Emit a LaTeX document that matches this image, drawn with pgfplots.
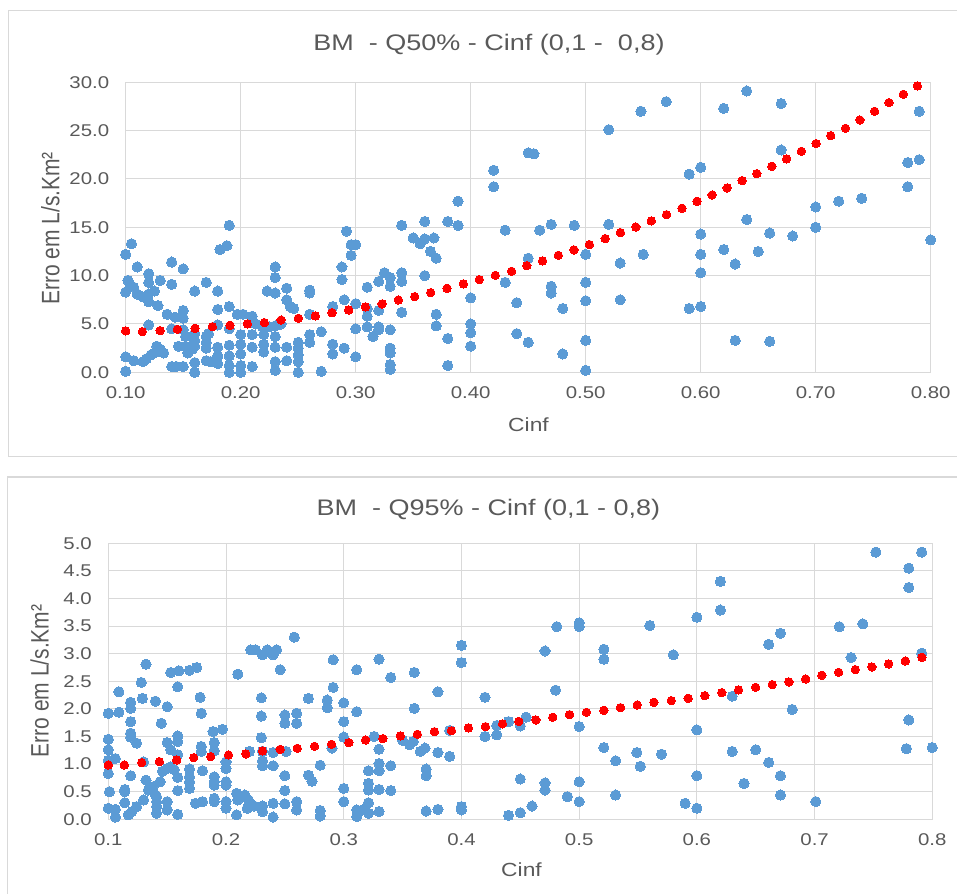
\documentclass[border=0pt]{standalone}
\usepackage{fontspec}
\setmainfont{Liberation Sans}[FakeStretch=1.2]
\newfontfamily\labelfont{Liberation Sans}
\usepackage{pgfplots}
\pgfplotsset{compat=1.18}

\definecolor{ptblue}{HTML}{5B9BD5}
\definecolor{gridgray}{HTML}{D9D9D9}
\definecolor{txtgray}{HTML}{595959}

\pgfplotsset{
  excelscatter/.style={
    scale only axis,
    axis line style={gridgray, line width=1bp},
    grid=major,
    major grid style={gridgray, line width=1bp},
    major tick length=0pt,
    tick style={draw=none},
    xmin=0.1, xmax=0.8, ymin=0,
    /pgf/number format/assume math mode=true,
    tick label style={font=\fontsize{17bp}{20bp}\selectfont, text=txtgray},
    xticklabel style={yshift=-11bp},
    yticklabel style={xshift=-13bp},
    clip=false,
  },
  blue dots/.style={only marks, mark=*, mark size=5.1bp, color=ptblue,
    mark options={draw=ptblue, fill=ptblue, line width=0pt}},
  red dots/.style={only marks, mark=*, mark size=4.2bp, color=red,
    mark options={draw=red, fill=red, line width=0pt}},
}

\begin{document}
\begin{tikzpicture}[x=1bp, y=1bp]
\useasboundingbox (0,0) rectangle (957,894);

% panel frames
\draw[gridgray, line width=1.3bp] (8.6,883.3) rectangle (975,437.5);
\draw[gridgray, line width=1.3bp] (7.3,417) rectangle (975,-10);

% ---------------- Q50% ----------------
\begin{axis}[excelscatter,
  at={(125.7bp,521.7bp)}, anchor=south west,
  width=805bp, height=290bp,
  ymax=30,
  xtick={0.1,0.2,...,0.8},
  ytick={0,5,...,30},
  xticklabel style={/pgf/number format/.cd, fixed, fixed zerofill, precision=2},
  yticklabel style={/pgf/number format/.cd, fixed, fixed zerofill, precision=1},
]
\addplot[blue dots] coordinates {
(0.100,12.2) (0.105,13.3) (0.110,10.9) (0.102,9.5) (0.104,9.0) (0.100,8.3) (0.107,8.8)
(0.110,8.1) (0.115,7.8) (0.120,8.1) (0.125,8.4) (0.120,9.3) (0.120,10.2) (0.120,7.3)
(0.128,6.9) (0.130,9.5) (0.136,6.0) (0.140,11.4) (0.140,9.1) (0.143,5.7) (0.150,5.6)
(0.150,6.4) (0.150,10.7) (0.160,8.4) (0.170,9.3) (0.180,8.4) (0.180,6.5) (0.182,12.7)
(0.188,13.1) (0.190,15.2) (0.190,6.8) (0.197,6.0)
(0.120,4.9) (0.140,4.5) (0.150,4.4) (0.152,3.7) (0.160,4.0) (0.160,3.3) (0.170,3.7)
(0.172,4.0) (0.180,4.9) (0.190,4.5) (0.200,3.9) (0.190,2.8) (0.200,2.9) (0.130,2.4)
(0.127,2.7) (0.133,2.0) (0.125,2.0) (0.146,2.7) (0.152,2.7) (0.154,2.0) (0.158,2.4)
(0.160,2.7) (0.170,3.1) (0.170,2.5) (0.180,2.6) (0.180,1.7) (0.190,1.7) (0.100,1.6)
(0.107,1.2) (0.115,1.1) (0.118,1.4) (0.122,1.8) (0.140,0.6) (0.144,0.6) (0.150,0.6)
(0.160,1.0) (0.160,0.0) (0.170,1.2) (0.174,1.1) (0.180,0.9) (0.180,1.6) (0.190,0.7)
(0.190,0.0) (0.200,0.7) (0.200,0.0) (0.100,0.1)
(0.202,6.0) (0.210,5.8) (0.213,5.0) (0.219,4.7) (0.225,4.7) (0.230,4.8) (0.235,5.0)
(0.210,3.9) (0.220,3.9) (0.230,3.7) (0.200,1.9) (0.210,2.6) (0.220,2.9) (0.220,2.1)
(0.230,2.6) (0.240,2.6) (0.240,1.2) (0.210,0.6) (0.230,1.1) (0.230,0.2) (0.223,8.4)
(0.230,8.2) (0.230,10.9) (0.230,9.8) (0.240,8.7) (0.240,7.5) (0.243,6.8) (0.246,6.6)
(0.250,3.1) (0.250,2.5) (0.250,1.8) (0.250,1.1) (0.250,0.0) (0.260,8.5) (0.260,8.2)
(0.260,6.0) (0.260,3.9) (0.260,3.1) (0.270,4.2) (0.270,0.1) (0.280,6.8) (0.280,2.9)
(0.280,1.9) (0.288,10.9) (0.288,9.6) (0.290,7.5) (0.292,14.6) (0.290,2.5) (0.296,13.2)
(0.300,13.2) (0.296,12.1) (0.300,7.1) (0.300,4.5) (0.300,1.6)
(0.310,8.8) (0.310,6.6) (0.310,5.8) (0.310,4.7) (0.315,3.7) (0.320,9.4) (0.320,6.4)
(0.320,4.7) (0.320,4.4) (0.325,10.3) (0.330,9.8) (0.330,8.9) (0.330,4.4) (0.330,2.5)
(0.330,2.0) (0.330,0.8) (0.330,0.3) (0.340,15.2) (0.340,10.3) (0.340,9.4) (0.340,6.2)
(0.350,13.9) (0.356,13.3) (0.360,13.8) (0.368,13.9) (0.360,15.6) (0.360,10.0) (0.365,12.5)
(0.370,11.8) (0.370,6.0) (0.370,4.8) (0.380,15.6) (0.380,3.5) (0.380,0.7) (0.389,17.7)
(0.389,15.2) (0.400,7.7) (0.400,5.0) (0.400,4.1) (0.400,2.7)
(0.420,20.9) (0.420,19.2) (0.430,14.7) (0.430,9.3) (0.440,7.2) (0.440,4.0) (0.450,22.7)
(0.455,22.6) (0.450,11.8) (0.450,3.1) (0.460,14.7) (0.470,15.3) (0.470,8.9) (0.470,8.2)
(0.480,6.6) (0.480,1.9) (0.490,15.2) (0.500,12.2) (0.500,9.3) (0.500,7.4) (0.500,3.3)
(0.500,0.2) (0.520,25.1) (0.520,15.3) (0.530,11.3) (0.530,7.5) (0.548,27.0) (0.550,12.2)
(0.570,28.0) (0.590,20.5) (0.590,6.6) (0.600,21.2) (0.600,14.3) (0.600,12.2) (0.600,10.3)
(0.600,6.8) (0.620,27.3) (0.620,12.7) (0.630,11.2) (0.630,3.3) (0.640,29.1) (0.640,15.8)
(0.650,12.5) (0.660,14.4) (0.660,3.2) (0.670,27.8) (0.670,23.0) (0.680,14.1) (0.700,17.1)
(0.700,15.0) (0.720,17.7) (0.740,18.0) (0.780,21.7) (0.780,19.2) (0.790,27.0) (0.790,22.0)
(0.800,13.7)
};
% trendline, drawn as round dots
\addplot[red dots] coordinates {
(0.1000,4.28) (0.1145,4.21) (0.1299,4.31) (0.1449,4.45) (0.1603,4.55) (0.1754,4.72)
(0.1907,4.86) (0.2058,5.00) (0.2206,5.14) (0.2351,5.41) (0.2501,5.59) (0.2649,5.83)
(0.2794,6.17) (0.2939,6.45) (0.3084,6.76) (0.3229,7.07) (0.3371,7.48) (0.3513,7.83)
(0.3652,8.24) (0.3794,8.69) (0.3936,9.14) (0.4075,9.59) (0.4214,10.03) (0.4355,10.45)
(0.4488,11.03) (0.4625,11.52) (0.4762,12.10) (0.4898,12.66) (0.5032,13.21) (0.5169,13.83)
(0.5302,14.45) (0.5436,15.03) (0.5570,15.66) (0.5703,16.31) (0.5837,16.97) (0.5968,17.69)
(0.6099,18.34) (0.6230,19.07) (0.6360,19.83) (0.6488,20.55) (0.6619,21.31) (0.6747,22.07)
(0.6875,22.86) (0.7003,23.66) (0.7131,24.48) (0.7259,25.24) (0.7384,26.10) (0.7512,27.00)
(0.7637,27.90) (0.7762,28.76) (0.7884,29.62)
};
\end{axis}

% ---------------- Q95% ----------------
\begin{axis}[excelscatter,
  at={(108.3bp,74.7bp)}, anchor=south west,
  width=824bp, height=276bp,
  ymax=5,
  xtick={0.1,0.2,...,0.8},
  ytick={0,0.5,...,5},
  xticklabel style={/pgf/number format/.cd, fixed, precision=1},
  yticklabel style={/pgf/number format/.cd, fixed, fixed zerofill, precision=1},
]
\addplot[blue dots] coordinates {
(0.132,2.81) (0.153,2.66) (0.160,2.69) (0.169,2.70) (0.175,2.75) (0.128,2.48) (0.109,2.31)
(0.159,2.40) (0.119,2.12) (0.119,2.01) (0.129,2.19) (0.140,2.14) (0.150,2.04) (0.178,2.21)
(0.179,1.92) (0.100,1.92) (0.109,1.94) (0.119,1.77) (0.145,1.74) (0.100,1.45) (0.119,1.56)
(0.119,1.49) (0.124,1.38) (0.159,1.51) (0.159,1.41) (0.150,1.39) (0.100,1.26) (0.153,1.26)
(0.159,1.17) (0.189,1.59) (0.197,1.63) (0.190,1.39) (0.179,1.32) (0.179,1.23) (0.190,1.24)
(0.106,1.10) (0.100,1.07) (0.100,0.83) (0.119,0.79) (0.130,1.04) (0.146,0.87) (0.150,0.92)
(0.153,0.95) (0.156,0.90) (0.159,0.76) (0.169,0.91) (0.169,0.77) (0.169,0.68) (0.169,0.56)
(0.180,0.88) (0.190,0.77) (0.190,0.68) (0.190,0.62) (0.200,1.04) (0.200,0.92) (0.101,0.50)
(0.114,0.54) (0.114,0.50) (0.132,0.71) (0.134,0.53) (0.138,0.59) (0.144,0.68) (0.159,0.52)
(0.140,0.44) (0.141,0.41) (0.141,0.32) (0.141,0.23) (0.141,0.11) (0.150,0.32) (0.150,0.17)
(0.130,0.35) (0.124,0.23) (0.120,0.14) (0.117,0.08) (0.114,0.30) (0.100,0.20) (0.106,0.18)
(0.106,0.04) (0.159,0.09) (0.174,0.29) (0.180,0.32) (0.190,0.32) (0.190,0.38) (0.200,0.32)
(0.200,0.20)
(0.258,3.30) (0.221,3.07) (0.225,3.07) (0.231,2.98) (0.235,3.07) (0.240,2.98) (0.243,3.07)
(0.291,2.89) (0.210,2.63) (0.246,2.71) (0.291,2.39) (0.230,2.20) (0.270,2.19) (0.286,2.16)
(0.286,2.02) (0.230,1.87) (0.250,1.89) (0.250,1.74) (0.260,1.92) (0.260,1.74) (0.230,1.48)
(0.220,1.23) (0.231,1.23) (0.240,1.21) (0.251,1.23) (0.290,1.29) (0.231,1.06) (0.231,0.97)
(0.240,0.97) (0.250,0.79) (0.280,0.98) (0.270,0.80) (0.273,0.69) (0.200,0.68) (0.200,0.62)
(0.250,0.52) (0.209,0.47) (0.216,0.44) (0.210,0.35) (0.219,0.35) (0.218,0.20) (0.224,0.24)
(0.231,0.24) (0.231,0.14) (0.240,0.29) (0.250,0.28) (0.260,0.32) (0.260,0.17) (0.280,0.16)
(0.280,0.06) (0.209,0.08) (0.240,0.04)
(0.400,3.15) (0.400,2.84) (0.330,2.90) (0.311,2.71) (0.340,2.57) (0.360,2.66) (0.380,2.31)
(0.300,2.11) (0.311,1.95) (0.360,2.01) (0.300,1.77) (0.300,1.49) (0.326,1.50) (0.350,1.43)
(0.356,1.35) (0.359,1.41) (0.365,1.23) (0.369,1.29) (0.380,1.21) (0.390,1.14) (0.390,1.61)
(0.330,1.27) (0.330,1.01) (0.330,0.88) (0.321,0.88) (0.340,0.97) (0.370,0.91) (0.370,0.79)
(0.300,0.56) (0.321,0.65) (0.321,0.53) (0.330,0.54) (0.340,0.52) (0.300,0.32) (0.321,0.30)
(0.311,0.17) (0.316,0.17) (0.321,0.11) (0.330,0.14) (0.311,0.05) (0.370,0.15) (0.380,0.18)
(0.400,0.23) (0.400,0.17)
(0.481,3.49) (0.500,3.56) (0.500,3.49) (0.471,3.05) (0.420,2.21) (0.480,2.34) (0.500,1.68)
(0.440,1.77) (0.450,1.69) (0.455,1.85) (0.430,1.70) (0.430,1.53) (0.420,1.50) (0.450,0.73)
(0.471,0.66) (0.471,0.53) (0.500,0.68) (0.440,0.07) (0.450,0.12) (0.460,0.24) (0.490,0.41)
(0.500,0.32)
(0.521,3.08) (0.521,2.90) (0.521,1.30) (0.531,1.06) (0.531,0.44) (0.549,1.21) (0.552,0.96)
(0.560,3.51) (0.570,1.18) (0.580,2.98) (0.590,0.29) (0.600,3.66) (0.600,1.62) (0.600,0.79)
(0.600,0.20) (0.620,4.31) (0.620,3.79) (0.630,2.23) (0.630,1.23) (0.640,0.65) (0.650,1.26)
(0.661,3.17) (0.671,3.37) (0.661,1.03) (0.671,0.79) (0.671,0.44) (0.681,1.99) (0.701,0.32)
(0.721,3.49) (0.731,2.93) (0.741,3.54) (0.752,4.84) (0.780,4.55) (0.780,4.20) (0.780,1.80)
(0.778,1.28) (0.791,4.84) (0.791,3.01) (0.800,1.30)
};
% trendline, drawn as round dots
\addplot[red dots] coordinates {
(0.1000,0.984) (0.1136,0.984) (0.1284,1.027) (0.1434,1.045) (0.1581,1.075) (0.1726,1.117)
(0.1870,1.135) (0.2021,1.165) (0.2168,1.184) (0.2310,1.238) (0.2460,1.268) (0.2605,1.286)
(0.2752,1.322) (0.2897,1.359) (0.3044,1.389) (0.3186,1.437) (0.3333,1.461) (0.3481,1.510)
(0.3625,1.540) (0.3770,1.588) (0.3915,1.606) (0.4059,1.655) (0.4204,1.679) (0.4349,1.730)
(0.4487,1.775) (0.4632,1.800) (0.4776,1.848) (0.4918,1.896) (0.5062,1.938) (0.5210,1.975)
(0.5351,2.023) (0.5493,2.071) (0.5635,2.120) (0.5782,2.150) (0.5926,2.192) (0.6068,2.240)
(0.6212,2.295) (0.6354,2.343) (0.6499,2.391) (0.6640,2.440) (0.6782,2.488) (0.6924,2.542)
(0.7062,2.609) (0.7204,2.663) (0.7346,2.711) (0.7487,2.760) (0.7629,2.814) (0.7771,2.868)
(0.7912,2.935)
};
\end{axis}

% titles and axis titles
\node[anchor=base, text=txtgray, font=\fontsize{22.5bp}{26bp}\selectfont]
  at (489,843.3) {BM\ \ - Q50\% - Cinf (0,1 -\ \ 0,8)};
\node[anchor=base, text=txtgray, font=\fontsize{22.5bp}{26bp}\selectfont]
  at (488.4,378) {BM\ \ - Q95\% - Cinf (0,1 - 0,8)};
\node[text=txtgray, font=\fontsize{19bp}{22bp}\selectfont] at (528.5,469.5) {Cinf};
\node[text=txtgray, font=\fontsize{19bp}{22bp}\selectfont] at (521.5,24.5) {Cinf};
\node[xscale=1.2, rotate=90, text=txtgray, font=\labelfont\fontsize{21bp}{24bp}\selectfont]
  at (50.4,665.5) {Erro em L/s.Km²};
\node[xscale=1.2, rotate=90, text=txtgray, font=\labelfont\fontsize{21bp}{24bp}\selectfont]
  at (39.7,213) {Erro em L/s.Km²};
\end{tikzpicture}
\end{document}
